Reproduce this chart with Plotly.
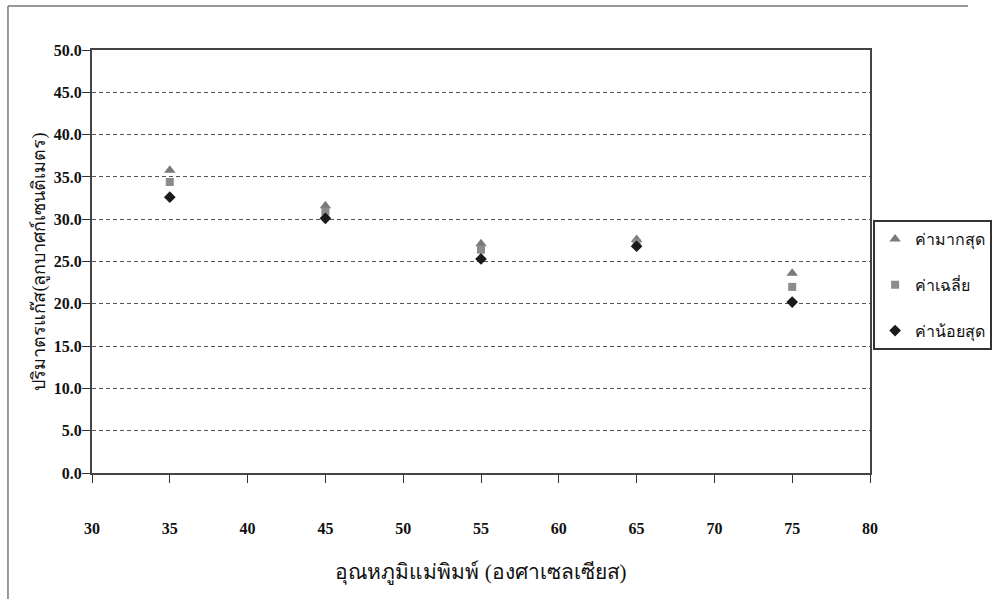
import plotly.graph_objects as go

temps = [35, 45, 55, 65, 75]
max_vals = [35.8, 31.6, 27.1, 27.6, 23.6]
avg_vals = [34.4, 30.9, 26.4, 27.2, 22.0]
min_vals = [32.6, 30.1, 25.3, 26.8, 20.2]
names = ["ค่ามากสุด", "ค่าเฉลี่ย", "ค่าน้อยสุด"]
xticks = [30, 35, 40, 45, 50, 55, 60, 65, 70, 75, 80]
yticks = [0, 5, 10, 15, 20, 25, 30, 35, 40, 45, 50]
x_title = "อุณหภูมิแม่พิมพ์ (องศาเซลเซียส)"
y_title = "ปริมาตรแก๊ส(ลูกบาศก์เซนติเมตร)"

fig = go.Figure()
series = [
    (max_vals, names[0], "triangle-up", "#7a7a7a", 10),
    (avg_vals, names[1], "square", "#8c8c8c", 8),
    (min_vals, names[2], "diamond", "#1a1a1a", 9),
]
for i, (vals, nm, sym, col, sz) in enumerate(series):
    fig.add_trace(go.Scatter(
        x=temps, y=vals, mode="markers", name=nm, legendgroup=str(i),
        marker=dict(symbol=sym, color=col, size=sz, line=dict(width=0)),
    ))

serif = "Liberation Serif"
tickfont = dict(family=serif, size=16, color="#111", weight="bold")
fig.update_layout(
    width=992, height=599,
    margin=dict(l=92, r=122, t=50, b=126, autoexpand=False),
    plot_bgcolor="white", paper_bgcolor="white",
    showlegend=True,
    legend=dict(
        x=1.004, y=0.598, xanchor="left", yanchor="top",
        bordercolor="#333", borderwidth=2, bgcolor="white",
        font=dict(family=serif, size=16, color="#111"),
        tracegroupgap=22, itemwidth=30,
    ),
    xaxis=dict(
        range=[30, 80], tickvals=xticks, ticktext=[str(v) for v in xticks],
        showgrid=False, zeroline=False,
        showline=True, linecolor="#444", linewidth=2, mirror=True,
        ticks="outside", ticklen=8, tickcolor="#333", tickwidth=1,
        tickfont=tickfont, ticklabelstandoff=32,
        title=dict(text=x_title,
                   font=dict(family=serif, size=21, color="#111"), standoff=28),
    ),
    yaxis=dict(
        range=[0, 50], tickvals=yticks, ticktext=[f"{v:.1f}" for v in yticks],
        showgrid=True, gridcolor="#555", griddash="4px,3px", gridwidth=1,
        zeroline=False,
        showline=True, linecolor="#444", linewidth=2, mirror=True,
        ticks="outside", ticklen=8, tickcolor="#333", tickwidth=1,
        tickfont=tickfont, ticklabelstandoff=-3,
    ),
    annotations=[dict(
        text=y_title, xref="paper", yref="paper", x=-0.068, y=0.5,
        xanchor="center", yanchor="middle", textangle=-90, showarrow=False,
        font=dict(family=serif, size=18, color="#111"),
    )],
    shapes=[
        dict(type="line", xref="paper", yref="paper",
             x0=-0.108, x1=1.126, y0=1.104, y1=1.104,
             line=dict(color="#777", width=1.5)),
        dict(type="line", xref="paper", yref="paper",
             x0=-0.108, x1=-0.108, y0=1.104, y1=-0.35,
             line=dict(color="#777", width=1.5)),
    ],
)
fig.write_html("out.html")
